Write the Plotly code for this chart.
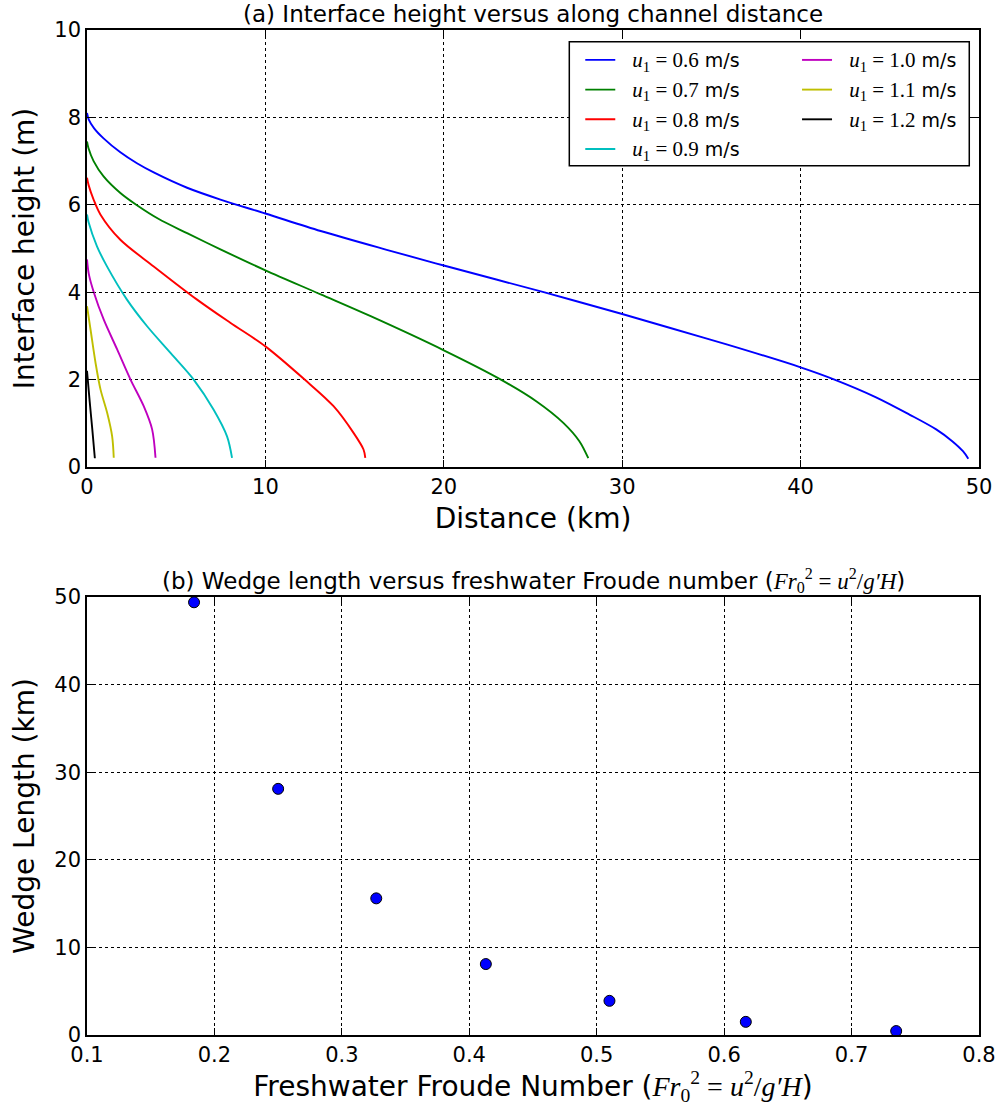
import plotly.graph_objects as go

# ---------------- data ----------------
velocities = ["0.6", "0.7", "0.8", "0.9", "1.0", "1.1", "1.2"]
line_colors = ["#0000ff", "#008000", "#ff0000", "#00bfbf", "#bf00bf", "#bfbf00", "#000000"]

dist_06 = [0, 0.1, 0.4, 0.93, 1.87, 2.8, 3.74, 5.61, 7.48, 10.0, 13.1, 16.8, 20.0, 25.6, 30.0,
           32.7, 35.9, 40.0, 41.9, 44.2, 46.1, 47.6, 48.5, 49.1, 49.4]
h_06 = [8.1, 7.95, 7.75, 7.52, 7.2, 6.95, 6.74, 6.39, 6.12, 5.80, 5.40, 4.97, 4.61, 4.0, 3.50,
        3.18, 2.80, 2.28, 2.0, 1.60, 1.20, 0.86, 0.59, 0.36, 0.19]

dist_07 = [0, 0.08, 0.37, 0.93, 1.87, 2.8, 4.0, 5.61, 7.48, 10.0, 13.1, 15.9, 20.0, 23.2, 25.2,
           26.7, 27.6, 28.1]
h_07 = [7.45, 7.3, 7.0, 6.65, 6.27, 5.99, 5.68, 5.35, 4.98, 4.50, 3.95, 3.45, 2.67, 2.0, 1.50,
        1.01, 0.59, 0.2]

dist_08 = [0, 0.09, 0.37, 0.75, 1.87, 3.74, 6.17, 8.03, 10.0, 12.2, 13.82, 14.94, 15.5, 15.6]
h_08 = [6.62, 6.45, 6.12, 5.78, 5.20, 4.59, 3.83, 3.30, 2.76, 2.0, 1.39, 0.78, 0.40, 0.21]

dist_09 = [0, 0.09, 0.56, 1.12, 2.24, 3.37, 4.68, 5.98, 7.1, 7.85, 8.13]
h_09 = [5.78, 5.6, 5.05, 4.59, 3.83, 3.22, 2.61, 2.0, 1.31, 0.70, 0.21]

dist_10 = [0, 0.1, 0.38, 0.94, 1.69, 2.44, 3.18, 3.65, 3.84]
h_10 = [4.75, 4.42, 4.0, 3.37, 2.69, 2.0, 1.39, 0.86, 0.21]

dist_11 = [0, 0.2, 0.48, 0.76, 1.13, 1.41, 1.5]
h_11 = [3.68, 3.14, 2.38, 1.77, 1.24, 0.70, 0.21]

dist_12 = [0, 0.15, 0.3, 0.44]
h_12 = [2.2, 1.5, 0.85, 0.2]

froude = [0.184, 0.250, 0.327, 0.413, 0.510, 0.617, 0.735]
wedge_length = [49.4, 28.1, 15.6, 8.1, 3.9, 1.5, 0.45]

x_ticks_a = [0, 10, 20, 30, 40, 50]
y_ticks_a = [0, 2, 4, 6, 8, 10]
x_ticks_b = [0.1, 0.2, 0.3, 0.4, 0.5, 0.6, 0.7, 0.8]
y_ticks_b = [0, 10, 20, 30, 40, 50]

dists = [dist_06, dist_07, dist_08, dist_09, dist_10, dist_11, dist_12]
heights = [h_06, h_07, h_08, h_09, h_10, h_11, h_12]

# ---------------- figure ----------------
FONT = "DejaVu Sans"
MATH = "Liberation Serif"

fig = go.Figure()
for i, (v, c, xd, yd) in enumerate(zip(velocities, line_colors, dists, heights)):
    label = (f"&nbsp;&nbsp;<span style='font-family:{MATH};font-size:21px'>"
             f"<i>u</i><sub>1</sub> = {v}</span> m/s")
    fig.add_trace(go.Scatter(
        x=xd, y=yd, mode="lines", name=label,
        line=dict(color=c, width=1.9, shape="spline", smoothing=0.9),
        xaxis="x", yaxis="y",
        legend="legend" if i < 4 else "legend2",
        legendgroup=f"g{i}",
    ))

fig.add_trace(go.Scatter(
    x=froude, y=wedge_length, mode="markers", showlegend=False,
    marker=dict(color="#0000ff", size=11, line=dict(color="black", width=1)),
    xaxis="x2", yaxis="y2",
))

axis_common = dict(
    showline=True, linecolor="black", linewidth=1.5, mirror="allticks",
    ticks="inside", ticklen=7, tickwidth=1, tickcolor="black",
    showgrid=True, gridcolor="black", gridwidth=1, griddash="dot",
    zeroline=False, automargin=False,
    tickfont=dict(family=FONT, size=21, color="black"),
)
title_font = dict(family=FONT, size=28, color="black")

top_dom = [0.5652, 1.0]
bot_dom = [0.0, 0.4358]

frac_text = ("<span style='font-family:" + MATH + "'>"
             "<i>Fr</i><sub>0</sub><sup>2</sup> = <i>u</i><sup>2</sup>/<i>g′H</i></span>")

fig.update_layout(
    width=1001, height=1112,
    margin=dict(l=87, r=22, t=30, b=77),
    paper_bgcolor="white", plot_bgcolor="white",
    font=dict(family=FONT, color="black"),
    xaxis=dict(axis_common, domain=[0, 1], anchor="y", range=[0, 50], tickvals=x_ticks_a,
               title=dict(text="Distance (km)", font=title_font, standoff=10)),
    yaxis=dict(axis_common, domain=top_dom, anchor="x", range=[0, 10], tickvals=y_ticks_a,
               title=dict(text="Interface height (m)", font=title_font, standoff=12)),
    xaxis2=dict(axis_common, domain=[0, 1], anchor="y2", range=[0.1, 0.8], tickvals=x_ticks_b,
                ticktext=[f"{t:.1f}" for t in x_ticks_b],
                title=dict(text="Freshwater Froude Number (" + frac_text + ")",
                           font=title_font, standoff=8)),
    yaxis2=dict(axis_common, domain=bot_dom, anchor="x2", range=[0, 50], tickvals=y_ticks_b,
                title=dict(text="Wedge Length (km)", font=title_font, standoff=12)),
    legend=dict(x=0.553, y=0.989, xanchor="left", yanchor="top", bgcolor="rgba(0,0,0,0)",
                borderwidth=0, font=dict(family=FONT, size=19, color="black"),
                tracegroupgap=2, itemwidth=30),
    legend2=dict(x=0.796, y=0.989, xanchor="left", yanchor="top", bgcolor="rgba(0,0,0,0)",
                 borderwidth=0, font=dict(family=FONT, size=19, color="black"),
                 tracegroupgap=2, itemwidth=30),
    shapes=[dict(type="rect", xref="paper", yref="paper", x0=0.5407, x1=0.9891, y0=0.865, y1=0.9884,
                 line=dict(color="black", width=1.5), fillcolor="white", layer="above")],
    annotations=[
        dict(text="(a) Interface height versus along channel distance", xref="paper", yref="paper",
             x=0.5, y=1.016, xanchor="center", yanchor="middle", showarrow=False,
             font=dict(family=FONT, size=23, color="black")),
        dict(text="(b) Wedge length versus freshwater Froude number (" + frac_text + ")",
             xref="paper", yref="paper", x=0.5, y=0.4527, xanchor="center", yanchor="middle",
             showarrow=False, font=dict(family=FONT, size=23, color="black")),
    ],
)

fig.write_html("out.html")
